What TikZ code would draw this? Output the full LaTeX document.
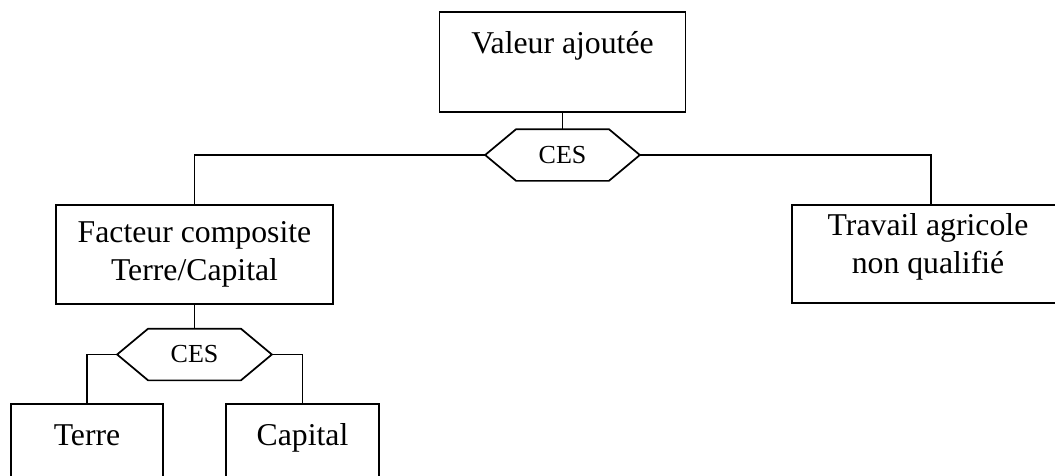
\documentclass[tikz,border=0pt]{standalone}
\usepackage{fontspec}
\setmainfont{Liberation Serif}
\usetikzlibrary{calc}
\begin{document}
\begin{tikzpicture}[x=0.75pt,y=-0.75pt,
  line width=1.3pt,
  box/.style={draw,rectangle,inner sep=0pt},
  ces/.style={rectangle,inner sep=0pt,minimum width=153*0.75pt,
    minimum height=50*0.75pt,font=\fontsize{19.5}{22}\selectfont},
  lbl/.style={inner sep=0pt,align=center,font=\fontsize{23.8}{27.8}\selectfont}]
\path[use as bounding box,clip] (0,0) rectangle (1055,475);

% boxes
\node[box,minimum width=246*0.75pt,minimum height=100*0.75pt] (va) at (562.5,62) {};
\node[box,minimum width=277*0.75pt,minimum height=99*0.75pt] (fc) at (194.5,254.5) {};
\node[box,minimum width=278*0.75pt,minimum height=98*0.75pt] (tr) at (931,254) {};
\node[box,minimum width=152*0.75pt,minimum height=100*0.75pt] (te) at (87,454) {};
\node[box,minimum width=153*0.75pt,minimum height=100*0.75pt] (ca) at (302.5,454) {};

% box texts (base anchor sits on the last line)
\node[lbl,anchor=base] (tva) at (562.5,53) {Valeur ajoutée};
\node[lbl,anchor=base] (tfc) at (194.5,280) {Facteur composite\\Terre/Capital};
\node[lbl,anchor=base] (ttr) at (928,273) {Travail agricole\\non qualifié};
\node[lbl,anchor=base] (tte) at (87,445) {Terre};
\node[lbl,anchor=base] (tca) at (302.5,445) {Capital};

% CES nests: elongated hexagons
\node[ces] (h1) at (562.5,155) {CES};
\node[ces] (h2) at (194.5,354.5) {CES};
\foreach \h in {h1,h2}{
  \draw[line join=miter] (\h.west) -- ($(\h.north west)+(31,0)$)
    -- ($(\h.north east)+(-31,0)$) -- (\h.east)
    -- ($(\h.south east)+(-31,0)$) -- ($(\h.south west)+(31,0)$) -- cycle;
}

% connectors
\draw (va.south) -- (h1.north);
\draw (h1.west) -| (fc.north);
\draw (h1.east) -| (tr.north);
\draw (fc.south) -- (h2.north);
\draw (h2.west) -| (te.north);
\draw (h2.east) -| (ca.north);
\end{tikzpicture}
\end{document}
